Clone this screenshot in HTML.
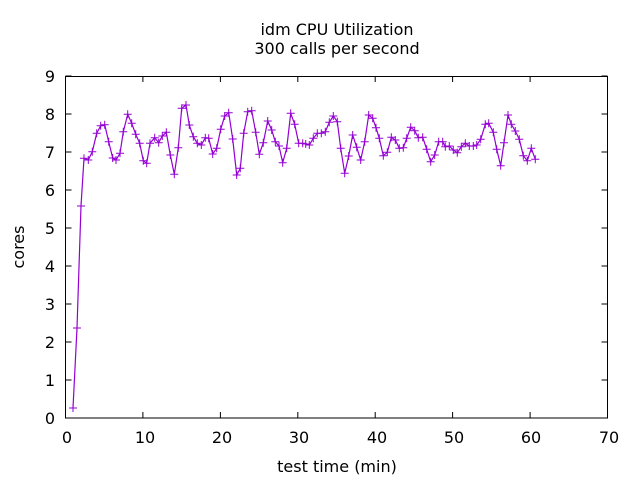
<!DOCTYPE html>
<html><head><meta charset="utf-8"><style>body{margin:0;background:#fff}svg{display:block}text{font-family:"DejaVu Sans","Liberation Sans",sans-serif;font-size:16px;fill:#000}</style></head><body>
<svg width="640" height="480" viewBox="0 0 640 480">
<text x="337" y="35" text-anchor="middle">idm CPU Utilization</text>
<text x="337" y="54" text-anchor="middle">300 calls per second</text>
<g stroke="#000" stroke-width="1" fill="none">
<rect x="65.5" y="76.5" width="542" height="341.5"/>
</g>
<g stroke="#000" stroke-width="1">
<path d="M65.5 418h6M607.5 418h-6M65.5 380h6M607.5 380h-6M65.5 342h6M607.5 342h-6M65.5 304h6M607.5 304h-6M65.5 266h6M607.5 266h-6M65.5 228h6M607.5 228h-6M65.5 190h6M607.5 190h-6M65.5 152h6M607.5 152h-6M65.5 114h6M607.5 114h-6M65.5 76h6M607.5 76h-6"/>
<path d="M65.5 418v-6M65.5 76v6M142.9 418v-6M142.9 76v6M220.4 418v-6M220.4 76v6M297.8 418v-6M297.8 76v6M375.2 418v-6M375.2 76v6M452.6 418v-6M452.6 76v6M530.1 418v-6M530.1 76v6M607.5 418v-6M607.5 76v6"/>
</g>
<g text-anchor="end">
<text x="55" y="424">0</text><text x="55" y="386">1</text><text x="55" y="348">2</text><text x="55" y="310">3</text><text x="55" y="272">4</text><text x="55" y="234">5</text><text x="55" y="196">6</text><text x="55" y="158">7</text><text x="55" y="120">8</text><text x="55" y="82">9</text>
</g>
<g text-anchor="middle">
<text x="67" y="443">0</text><text x="145" y="443">10</text><text x="222" y="443">20</text><text x="299" y="443">30</text><text x="377" y="443">40</text><text x="454" y="443">50</text><text x="531" y="443">60</text><text x="609" y="443">70</text>
<text x="337" y="472">test time (min)</text>
<text transform="translate(24,247) rotate(-90)">cores</text>
</g>
<polyline id="pl" fill="none" stroke="#9400d3" stroke-width="1.2" points="73,408 77,328 81,206 84,158.3 88.3,160 92.3,151.7 96.7,133.3 100.7,125.7 104.7,124.7 108.7,141.7 112.7,158 116,160 120,153.3 123.3,131.7 127.7,114.3 131.7,123.3 135.7,134.3 139.7,143.3 143.3,160.7 146.7,163.3 150,143.3 154.7,137.7 158.7,142.7 162.3,136 166.3,132.3 170.3,155 174.3,174.3 178.3,147.7 181.7,108.3 186,105 189.3,125 193.3,136.7 197.3,143.3 201.3,145 205.3,137.7 208.7,138.3 212.7,154 216.7,148.3 220.7,129.3 224.7,116 228.7,112.7 232.7,139 236.7,175 240.3,168.3 243.7,133.3 247.7,111.7 251.7,110.7 255.7,132.3 259.3,154.3 263.3,142.7 267.7,121 271.7,130 275.3,141.7 279,146 282.7,162.7 286.7,148.3 290.7,113.3 294.7,124.3 298.7,143.3 302.7,143.3 305.7,144 309.3,145 313.3,138.3 317.3,133.3 321.3,133.3 325.3,131.7 329.3,122.3 333.3,116 337.3,121.7 340.7,148.3 344.7,173.3 348.7,156 352.7,135 356.7,147.3 360.7,160 364.7,141.7 368.7,115 372.7,118.3 376,127.7 379.3,138.3 383.3,155.7 387.3,152.3 391.3,137.3 395.3,140 399.3,148.3 403.3,147.7 406.7,138.3 410.7,127.3 414.7,130.7 418.3,137.7 422.7,137.3 426.7,149.3 430.7,161.7 434.7,155 438.7,141.7 442.7,141.7 445.3,146.7 449.3,146 453.3,150 457.3,152.7 461.3,146.7 465.3,143.3 469.3,146 473.3,146 476.7,145 480.7,139.3 485.3,124.3 488.7,123.3 493.3,132.3 496.7,149.3 500.7,165.7 504,142.7 508,115 511.3,124.3 515.3,131 519.3,139.3 523.3,155.7 527.3,160.7 531.3,148.3 535.3,159.3"/>
<path id="mk" fill="none" stroke="#9400d3" stroke-width="1" d=""/>
</svg>
<script>
var p=document.getElementById('pl').getAttribute('points').trim().split(/\s+/),d='';
p.forEach(function(s){var a=s.split(',');var x=+a[0],y=+a[1];d+='M'+(x-4)+' '+y+'h8M'+x+' '+(y-4)+'v8';});
document.getElementById('mk').setAttribute('d',d);
</script>
</body></html>
